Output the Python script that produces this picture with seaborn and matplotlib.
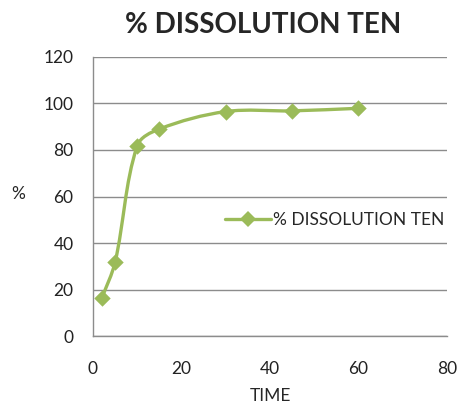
import numpy as np
import pandas as pd
import seaborn as sns
import matplotlib.pyplot as plt
from matplotlib.path import Path
from matplotlib.patches import PathPatch
from matplotlib.lines import Line2D

# dissolution data
time = [2, 5, 10, 15, 30, 45, 60]
dissolution = [16.3, 31.8, 81.8, 89.0, 96.5, 96.8, 97.9]
series_name = "% DISSOLUTION TEN"

df = pd.DataFrame({"time": time, "pct": dissolution})
green = "#9BBB59"

sns.set_style("white")
plt.rcParams['font.family'] = ['Lato', 'DejaVu Sans']

fig = plt.figure(figsize=(4.58, 4.09), dpi=100)
ax = fig.add_axes([0.203, 0.178, 0.773, 0.683])
ax.set_xlim(0, 80)
ax.set_ylim(0, 120)

# smoothed line like Excel: bezier segments, tangents scaled by segment length
sx, sy = 354 / 80, 279 / 120
pts = df[["time", "pct"]].to_numpy(dtype=float) * [sx, sy]
verts = [pts[0]]
codes = [Path.MOVETO]
for i in range(len(pts) - 1):
    p0 = pts[i - 1] if i > 0 else pts[i]
    p1, p2 = pts[i], pts[i + 1]
    p3 = pts[i + 2] if i + 2 < len(pts) else pts[i + 1]
    seg = np.linalg.norm(p2 - p1)
    d1 = (p2 - p0) / np.linalg.norm(p2 - p0)
    d2 = (p3 - p1) / np.linalg.norm(p3 - p1)
    verts += [p1 + d1 * seg / 3, p2 - d2 * seg / 3, p2]
    codes += [Path.CURVE4] * 3
verts = np.array(verts) / [sx, sy]
ax.add_patch(PathPatch(Path(verts, codes), facecolor='none', edgecolor=green,
                       lw=2.4, capstyle='round', joinstyle='round', zorder=3))

sns.scatterplot(data=df, x="time", y="pct", marker='D', s=70, color=green,
                edgecolor=green, linewidth=0, ax=ax, zorder=4)

ax.set_xticks(range(0, 81, 20))
ax.set_yticks(range(0, 121, 20))
ax.yaxis.grid(True, color='#8c8c8c', lw=1)
ax.xaxis.grid(False)
for s in ['top', 'right']:
    ax.spines[s].set_visible(False)
for s in ['left', 'bottom']:
    ax.spines[s].set_color('#8c8c8c')
    ax.spines[s].set_linewidth(1)
ax.tick_params(axis='both', direction='out', length=5, width=1, color='#8c8c8c',
               labelsize=12.5, labelcolor='#222222')
ax.tick_params(axis='x', pad=13)
ax.tick_params(axis='y', pad=9)

ax.set_xlabel("TIME", fontsize=12.5, labelpad=8)
ax.set_ylabel("%", fontsize=12.5, rotation=0, va='center', ha='center')
ax.yaxis.set_label_coords(-0.21, 0.51)

fig.text(0.575, 0.94, series_name, ha='center', va='center', fontsize=20,
         fontweight='bold')

handle = Line2D([], [], color=green, lw=2.4, marker='D', markersize=8,
                markeredgewidth=0)
ax.legend([handle], [series_name], loc='center left',
          bbox_to_anchor=(0.33, 0.415), frameon=False, fontsize=12.5,
          handlelength=2.6, handletextpad=0.15)

fig.savefig("out.png", dpi=100)
